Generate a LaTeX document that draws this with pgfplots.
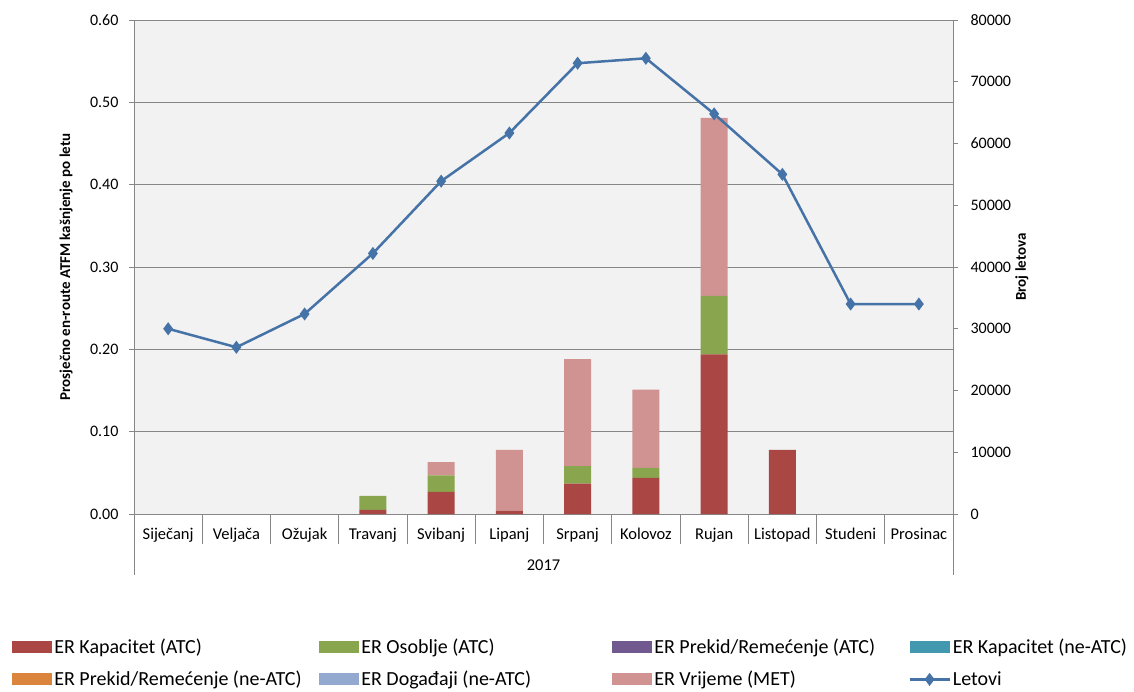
\documentclass[border=0pt]{standalone}
\usepackage{pgfplots}
\pgfplotsset{compat=1.18}
\usepackage{fontspec}
\setmainfont{Carlito}
\definecolor{cKap}{HTML}{AA4643}
\definecolor{cOsob}{HTML}{89A54E}
\definecolor{cPrek}{HTML}{71588F}
\definecolor{cKapN}{HTML}{4198AF}
\definecolor{cPrekN}{HTML}{DB843D}
\definecolor{cDog}{HTML}{93A9CF}
\definecolor{cMet}{HTML}{D19392}
\definecolor{cLine}{HTML}{4572A7}
\definecolor{cGrid}{HTML}{868686}
\definecolor{cBg}{HTML}{F2F2F2}
\pgfplotsset{
  barleg/.style={legend image code/.code={\fill[##1,draw=none] (0pt,-6pt) rectangle (40pt,6pt);}},
  lineleg/.style={legend image code/.code={\draw[##1,mark=none] (0pt,0pt) -- (40pt,0pt);
    \path[##1] plot coordinates {(20pt,0pt)};}},
}
\begin{document}
\begin{tikzpicture}[x=1pt,y=1pt]
\useasboundingbox (0,0) rectangle (1134,691);
\begin{axis}[
  at={(134pt,177pt)}, anchor=south west,
  scale only axis, width=819pt, height=494pt,
  clip=false,
  axis background/.style={fill=cBg},
  ybar stacked, bar width=27pt,
  xmin=-0.5, xmax=11.5, ymin=0, ymax=0.6,
  axis x line*=bottom, axis y line*=left,
  axis line style={cGrid, line width=0.8pt},
  ytick={0,0.1,0.2,0.3,0.4,0.5,0.6},
  yticklabel style={/pgf/number format/fixed, /pgf/number format/fixed zerofill, /pgf/number format/precision=2, xshift=-7pt},
  ymajorgrids, grid style={cGrid, line width=0.8pt},
  tick align=outside, major tick length=5pt,
  ytick style={cGrid, line width=0.8pt},
  xtick={0,...,11},
  xticklabels={Siječanj,Veljača,Ožujak,Travanj,Svibanj,Lipanj,Srpanj,Kolovoz,Rujan,Listopad,Studeni,Prosinac},
  xtick style={draw=none},
  extra x ticks={0.5,1.5,...,10.5},
  extra x tick labels={},
  extra x tick style={major tick length=30pt, tick align=outside, xtick style={draw=cGrid, line width=0.8pt}, grid=none},
  x tick label style={font=\fontsize{16.5}{18}\selectfont, yshift=-6pt},
  y tick label style={font=\fontsize{16}{18}\selectfont},
  /pgf/number format/assume math mode=true,
  ylabel={Prosječno en-route ATFM kašnjenje po letu},
  ylabel style={font=\bfseries\fontsize{15}{17}\selectfont, at={(axis description cs:-0.083,0.5)}, anchor=center},
  legend columns=4,
  legend cell align=left,
  legend style={draw=none, fill=none, at={(axis description cs:-0.150,-0.247)}, anchor=north west,
    font=\fontsize{20}{22}\selectfont, row sep=12pt, inner sep=1pt,
    /tikz/every even column/.append style={column sep=3pt}},
]
\addplot[fill=cKap, draw=none, barleg] coordinates {(0,0) (1,0) (2,0) (3,0.005) (4,0.027) (5,0.004) (6,0.037) (7,0.044) (8,0.194) (9,0.078) (10,0) (11,0)};
\addlegendentry{\makebox[260pt][l]{ER Kapacitet (ATC)}}
\addplot[fill=cOsob, draw=none, barleg] coordinates {(0,0) (1,0) (2,0) (3,0.017) (4,0.020) (5,0) (6,0.021) (7,0.012) (8,0.071) (9,0) (10,0) (11,0)};
\addlegendentry{\makebox[246pt][l]{ER Osoblje (ATC)}}
\addlegendimage{barleg, fill=cPrek}
\addlegendentry{\makebox[249pt][l]{ER Prekid/Remećenje (ATC)}}
\addlegendimage{barleg, fill=cKapN}
\addlegendentry{ER Kapacitet (ne-ATC)}
\addlegendimage{barleg, fill=cPrekN}
\addlegendentry{ER Prekid/Remećenje (ne-ATC)}
\addlegendimage{barleg, fill=cDog}
\addlegendentry{ER Događaji (ne-ATC)}
\addplot[fill=cMet, draw=none, barleg] coordinates {(0,0) (1,0) (2,0) (3,0) (4,0.016) (5,0.074) (6,0.130) (7,0.095) (8,0.216) (9,0) (10,0) (11,0)};
\addlegendentry{ER Vrijeme (MET)}
\addlegendimage{lineleg, cLine, line width=2.5pt, mark=diamond*, mark size=4.5pt}
\addlegendentry{Letovi}
\draw[cGrid, line width=0.8pt] (axis cs:-0.5,0) -- ++(0pt,-61pt);
\draw[cGrid, line width=0.8pt] (axis cs:11.5,0) -- ++(0pt,-61pt);
\node[font=\fontsize{16.5}{18}\selectfont] at ([yshift=-51pt]axis cs:5.5,0) {2017};
\end{axis}
\begin{axis}[
  at={(134pt,177pt)}, anchor=south west,
  scale only axis, width=819pt, height=494pt,
  xmin=-0.5, xmax=11.5, ymin=0, ymax=80000,
  axis x line=none, axis y line*=right,
  axis line style={cGrid, line width=0.8pt},
  ytick={0,10000,...,80000},
  scaled y ticks=false,
  yticklabel style={/pgf/number format/1000 sep={}, font=\fontsize{16}{18}\selectfont, xshift=9pt},
  /pgf/number format/assume math mode=true,
  tick align=outside, major tick length=5pt,
  ytick style={cGrid, line width=0.8pt},
  ylabel={Broj letova},
  ylabel style={font=\bfseries\fontsize{15}{17}\selectfont, at={(axis description cs:1.084,0.5)}, anchor=center},
]
\addplot[cLine, line width=2.5pt, mark=diamond*, mark size=4.5pt] coordinates {(0,30000) (1,27000) (2,32400) (3,42200) (4,53900) (5,61700) (6,73000) (7,73800) (8,64800) (9,55000) (10,34000) (11,34000)};
\end{axis}
\end{tikzpicture}
\end{document}
